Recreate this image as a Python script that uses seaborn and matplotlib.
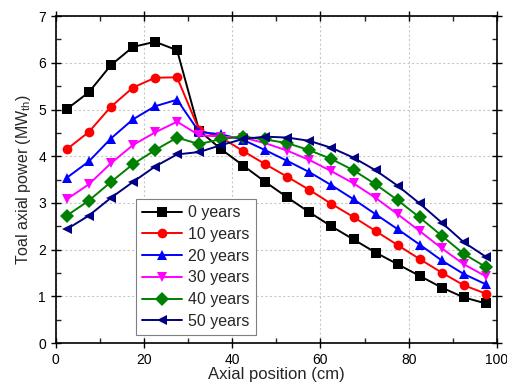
import numpy as np
import pandas as pd
import matplotlib
matplotlib.use('Agg')
import matplotlib.pyplot as plt
import seaborn as sns

# axial positions (cm), bin centres
position = [2.5, 7.5, 12.5, 17.5, 22.5, 27.5, 32.5, 37.5, 42.5, 47.5,
            52.5, 57.5, 62.5, 67.5, 72.5, 77.5, 82.5, 87.5, 92.5, 97.5]

years = ['0 years', '10 years', '20 years', '30 years', '40 years', '50 years']

p0 = [5.01, 5.37, 5.95, 6.34, 6.45, 6.27, 4.55, 4.15, 3.80, 3.45,
      3.12, 2.80, 2.50, 2.22, 1.94, 1.69, 1.44, 1.19, 0.98, 0.85]
p10 = [4.15, 4.52, 5.06, 5.47, 5.68, 5.69, 4.56, 4.40, 4.11, 3.83,
       3.56, 3.28, 2.98, 2.70, 2.40, 2.10, 1.80, 1.51, 1.24, 1.06]
p20 = [3.54, 3.89, 4.38, 4.79, 5.07, 5.21, 4.52, 4.47, 4.35, 4.13,
       3.90, 3.66, 3.38, 3.08, 2.76, 2.44, 2.11, 1.77, 1.48, 1.26]
p30 = [3.08, 3.40, 3.85, 4.24, 4.51, 4.74, 4.45, 4.42, 4.40, 4.28,
       4.12, 3.92, 3.68, 3.42, 3.11, 2.76, 2.40, 2.03, 1.69, 1.43]
p40 = [2.73, 3.05, 3.45, 3.83, 4.13, 4.40, 4.26, 4.37, 4.42, 4.36,
       4.28, 4.13, 3.94, 3.70, 3.40, 3.06, 2.69, 2.30, 1.91, 1.63]
p50 = [2.44, 2.73, 3.11, 3.45, 3.78, 4.04, 4.09, 4.24, 4.37, 4.42,
       4.40, 4.33, 4.18, 3.97, 3.70, 3.37, 2.99, 2.58, 2.16, 1.85]

colors = ['#000000', '#ff0000', '#0000ff', '#ff00ff', '#008000', '#000080']
markers = ['s', 'o', '^', 'v', 'D', '<']

df = pd.DataFrame({
    'pos': position * 6,
    'power': p0 + p10 + p20 + p30 + p40 + p50,
    'year': np.repeat(years, len(position)),
})

sns.set_style('ticks')
plt.rcParams['font.family'] = ['Liberation Sans', 'DejaVu Sans']
plt.rcParams['mathtext.fontset'] = 'custom'
plt.rcParams['mathtext.rm'] = 'Liberation Sans'

fig = plt.figure(figsize=(5.07, 3.83), dpi=100)
ax = fig.add_axes([0.110, 0.104, 0.870, 0.854])

sns.lineplot(data=df, x='pos', y='power', hue='year', style='year',
             hue_order=years, style_order=years, palette=colors,
             markers=markers, dashes=False, markersize=7,
             markeredgewidth=0, linewidth=1.4, ax=ax)

ax.set_xlim(0, 100)
ax.set_ylim(0, 7)
ax.set_xticks([0, 20, 40, 60, 80, 100])
ax.set_xticks(np.arange(10, 100, 20), minor=True)
ax.set_yticks(range(0, 8))
ax.set_yticks(np.arange(0.5, 7, 1), minor=True)
ax.grid(True, which='major', linestyle=(0, (2, 2)), color='#c8c8c8', linewidth=0.8)
ax.set_axisbelow(True)

ax.tick_params(which='major', direction='inout', length=7, width=1,
               labelsize=10, top=True, right=True, colors='black')
ax.tick_params(which='minor', direction='in', length=3.5, width=1,
               top=True, right=True)
for s in ax.spines.values():
    s.set_linewidth(1.2)
    s.set_color('black')

ax.set_xlabel('Axial position (cm)', fontsize=12, labelpad=0)
ax.set_ylabel(r'Toal axial power (MW$_{\mathregular{th}}$)', fontsize=11.5, labelpad=4)

leg = ax.legend(title=None, loc='upper left', bbox_to_anchor=(0.182, 0.44),
                fontsize=11.5, handlelength=2.5, labelspacing=0.42,
                borderpad=0.38, handletextpad=0.4, borderaxespad=0,
                fancybox=False, framealpha=1, edgecolor='#808080')
leg.get_frame().set_linewidth(0.8)

fig.savefig('out.png', dpi=100)
